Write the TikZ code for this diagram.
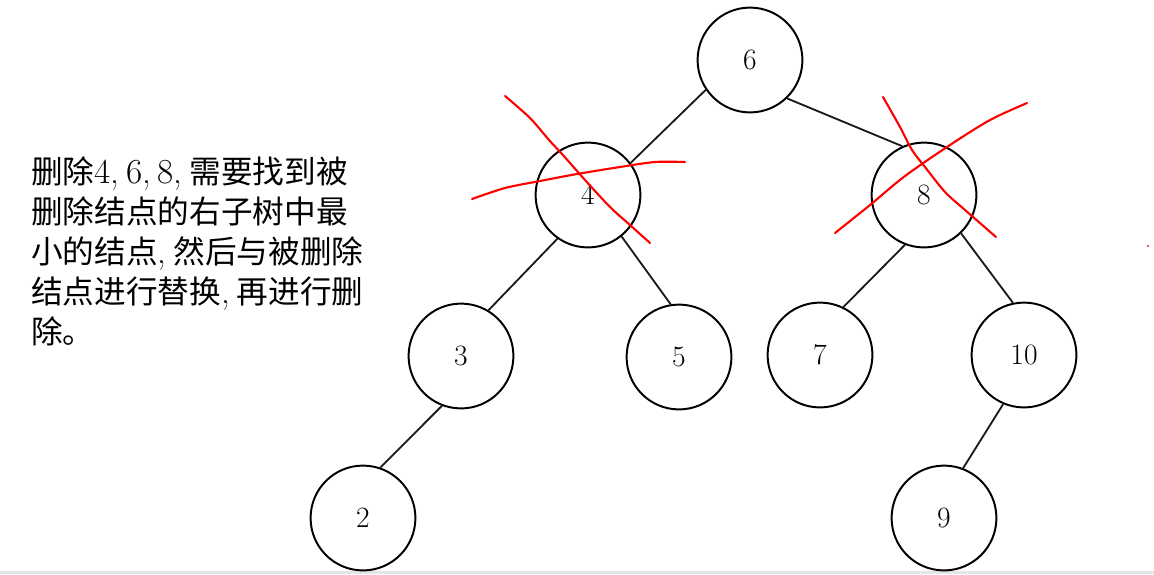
\documentclass[tikz,border=0pt]{standalone}
\usepackage{fontspec}
\newfontfamily\cjk{Noto Sans CJK SC}
\usetikzlibrary{positioning}
\newcommand\hwd[1]{\makebox[0.5em][c]{\rmfamily\fontsize{25}{28.45}\selectfont #1}}
\newcommand\hwc{\makebox[0.5em][l]{\rmfamily\fontsize{25}{28.45}\selectfont ,}}
\tikzset{
    treenode/.style={circle, draw=black, line width=1.4pt, fill=white, minimum size=2.62cm, inner sep=0pt, font=\fontsize{21}{25}\selectfont},
    edge/.style={line width=1.3pt, black!90},
    cross/.style={red, line width=1.5pt, line cap=round, line join=round}
}
\begin{document}
\begin{tikzpicture}[x=0.025cm, y=-0.025cm]
    \useasboundingbox (0,0) rectangle (1154,574);
    \fill[black!10] (0,571) rectangle (1154,574);

    % note on the left
    \node (note) [anchor=north west, inner sep=0pt, align=left, font=\cjk\fontsize{22.5}{28.45}\selectfont] at (31,156)
        {删除\hwd{4}\hwc\hwd{6}\hwc\hwd{8}\hwc 需要找到被\\删除结点的右子树中最\\小的结点\hwc 然后与被删除\\结点进行替换\hwc 再进行删\\除。};

    % tree
    \node (n6) [treenode] at (750,60) {6};
    \node (n4) [treenode] at (588,195) {4};
    \node (n8) [treenode] at (924,195) {8};
    \node (n3) [treenode] at (461,356) {3};
    \node (n5) [treenode] at (679,357) {5};
    \node (n7) [treenode] at (820,355) {7};
    \node (n10) [treenode] at (1024,355) {10};
    \node (n2) [treenode] at (363,518) {2};
    \node (n9) [treenode] at (944,518) {9};

    \draw [edge] (n6.214) -- (n4.37);
    \draw [edge] (n6.314) -- (n8.114);
    \draw [edge] (n4.235) -- (n3.59);
    \draw [edge] (n4.309) -- (n5.99);
    \draw [edge] (n8.249) -- (n7.64);
    \draw [edge] (n8.314) -- (n10.102);
    \draw [edge] (n3.249) -- (n2.71);
    \draw [edge] (n10.247) -- (n9.69);

    % red strokes
    \draw [cross] plot[smooth] coordinates {(505,96) (530,118) (549,140) (562,154) (585,180) (610,207) (630,225) (650,243)};
    \draw [cross] plot[smooth] coordinates {(472,199) (505,188) (540,181) (577,174) (620,167) (655,162) (685,162)};
    \draw [cross] plot[smooth] coordinates {(883,97) (900,127) (912,150) (925,167) (945,192) (965,210) (996,237)};
    \draw [cross] plot[smooth] coordinates {(835,233) (870,205) (905,176) (950,145) (990,120) (1027,103)};
    \fill [red!70] (1148,246) circle (1pt);
\end{tikzpicture}
\end{document}
